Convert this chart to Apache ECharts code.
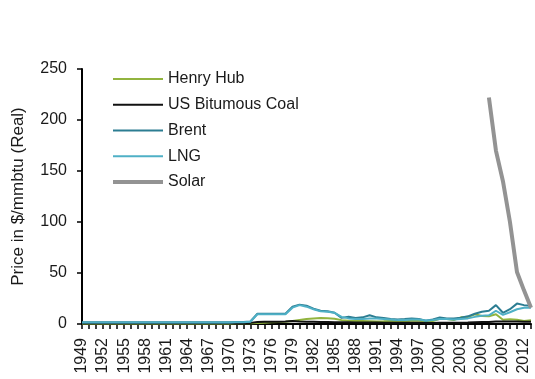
<!DOCTYPE html>
<html>
<head>
<meta charset="utf-8">
<script src="https://cdn.jsdelivr.net/npm/echarts@6/dist/echarts.min.js"></script>
<style>
  html, body { margin: 0; padding: 0; background: #fff; }
  #chart { width: 535px; height: 379px; }
</style>
</head>
<body>
<div id="chart"></div>
<script>
// Years 1949 .. 2013
var years = [];
for (var y = 1949; y <= 2013; y++) years.push(String(y));

var yTicks = [0, 50, 100, 150, 200, 250];

// Prices in $/mmbtu (real), one value per year
var henryHub = [
  0.4, 0.4, 0.4, 0.5, 0.5, 0.5, 0.5, 0.5, 0.5, 0.5, 0.6, 0.6,
  0.6, 0.6, 0.6, 0.6, 0.6, 0.6, 0.6, 0.6, 0.6, 0.6, 0.7, 0.7,
  0.8, 1.0, 1.3, 1.6, 2.0, 2.3, 3.0, 4.0, 4.8, 5.5, 5.8, 5.6,
  5.2, 3.8, 3.2, 3.0, 3.0, 2.8, 2.5, 2.6, 3.0, 2.6, 2.2, 3.5,
  3.3, 2.8, 3.0, 5.0, 4.8, 3.9, 6.5, 6.8, 9.5, 7.8, 7.6, 9.5,
  4.2, 4.6, 4.1, 2.9, 3.8
];

var usCoal = [
  1.0, 1.0, 1.0, 1.0, 1.0, 1.0, 1.0, 1.0, 1.0, 1.0, 1.0, 1.0,
  1.0, 1.0, 1.0, 1.0, 1.0, 1.0, 1.0, 1.0, 1.0, 1.0, 1.0, 1.0,
  1.1, 2.0, 2.3, 2.2, 2.2, 2.4, 3.0, 2.4, 2.3, 2.2, 2.0, 1.9,
  1.8, 1.7, 1.6, 1.5, 1.5, 1.4, 1.4, 1.3, 1.3, 1.2, 1.2, 1.2,
  1.2, 1.1, 1.1, 1.2, 1.3, 1.3, 1.3, 1.5, 1.8, 2.0, 2.0, 2.4,
  2.5, 2.4, 2.5, 2.3, 2.2
];

var brent = [
  1.8, 1.8, 1.8, 1.8, 1.8, 1.8, 1.8, 1.8, 1.8, 1.8, 1.8, 1.8,
  1.8, 1.8, 1.8, 1.8, 1.8, 1.8, 1.8, 1.8, 1.8, 1.8, 1.9, 2.0,
  2.5, 10.0, 10.0, 10.0, 10.0, 10.0, 17.0, 19.0, 18.0, 15.0, 13.0, 12.5,
  11.0, 6.0, 7.0, 6.0, 6.5, 8.5, 6.5, 6.0, 5.0, 4.5, 4.8, 5.5,
  5.0, 3.2, 4.5, 6.5, 5.5, 5.5, 6.2, 7.5, 10.0, 12.0, 13.0, 18.5,
  11.0, 14.5, 20.0, 18.5, 18.0
];

var lng = [
  1.5, 1.5, 1.5, 1.5, 1.5, 1.5, 1.5, 1.5, 1.5, 1.5, 1.5, 1.5,
  1.5, 1.5, 1.5, 1.5, 1.5, 1.5, 1.5, 1.5, 1.5, 1.5, 1.6, 1.7,
  2.2, 9.5, 9.5, 9.5, 9.5, 9.5, 16.0, 18.5, 17.0, 14.5, 12.5, 12.0,
  11.0, 7.0, 5.5, 5.0, 5.0, 5.5, 5.5, 5.0, 4.5, 3.8, 4.0, 4.5,
  4.5, 3.5, 4.0, 5.0, 5.0, 4.5, 5.0, 5.5, 7.0, 8.0, 8.5, 13.0,
  9.0, 11.5, 14.5, 16.0, 16.0
];

var solar = [
  null, null, null, null, null, null, null, null, null, null, null, null,
  null, null, null, null, null, null, null, null, null, null, null, null,
  null, null, null, null, null, null, null, null, null, null, null, null,
  null, null, null, null, null, null, null, null, null, null, null, null,
  null, null, null, null, null, null, null, null, null, null, 222, 170,
  140, 100, 51, 33, 16
];

var fontFam = '"Liberation Sans", Arial, sans-serif';
var textColor = '#1a1a1a';

// Flat bar icons so the legend shows plain line samples
var thinIcon = 'path://M0,0 L50,0 L50,2 L0,2 Z';
var thickIcon = 'path://M0,0 L50,0 L50,4 L0,4 Z';

function lineSeries(name, data, color, width) {
  return {
    name: name,
    type: 'line',
    data: data,
    symbol: 'none',
    showSymbol: false,
    connectNulls: false,
    lineStyle: { color: color, width: width },
    itemStyle: { color: color },
    emphasis: { disabled: true },
    animation: false
  };
}

var chart = echarts.init(document.getElementById('chart'), null, { renderer: 'canvas' });
chart.setOption({
  backgroundColor: '#ffffff',
  animation: false,
  grid: {
    left: 82, right: 4, top: 69, bottom: 55,
    containLabel: false,
    outerBoundsMode: 'none'
  },
  legend: {
    orient: 'vertical',
    left: 113,
    top: 71,
    padding: 0,
    itemWidth: 50,
    itemHeight: 16,
    itemGap: 9.75,
    symbolKeepAspect: true,
    textStyle: { fontFamily: fontFam, fontSize: 16, color: textColor, padding: [0, 0, 0, 0] },
    data: [
      { name: 'Henry Hub', icon: thinIcon },
      { name: 'US Bitumous Coal', icon: thinIcon },
      { name: 'Brent', icon: thinIcon },
      { name: 'LNG', icon: thinIcon },
      { name: 'Solar', icon: thickIcon }
    ]
  },
  xAxis: {
    type: 'category',
    data: years,
    boundaryGap: false,
    axisLine: { lineStyle: { color: '#000', width: 2 } },
    axisTick: { show: true, interval: 0, length: 5, lineStyle: { color: '#000', width: 1.5 } },
    axisLabel: {
      interval: 2,
      rotate: 90,
      fontFamily: fontFam,
      fontSize: 16,
      color: textColor,
      margin: 14
    },
    splitLine: { show: false }
  },
  yAxis: {
    type: 'value',
    min: 0,
    max: 250,
    interval: 50,
    name: 'Price in $/mmbtu (Real)',
    nameLocation: 'middle',
    nameGap: 55,
    nameTextStyle: { fontFamily: fontFam, fontSize: 17, color: textColor },
    axisLine: { show: true, lineStyle: { color: '#000', width: 2 } },
    axisTick: { show: true, length: 5, lineStyle: { color: '#000', width: 1.5 } },
    axisLabel: {
      fontFamily: fontFam,
      fontSize: 16,
      color: textColor,
      margin: 15,
      formatter: function (v) { return yTicks.indexOf(v) >= 0 ? String(v) : ''; }
    },
    splitLine: { show: false }
  },
  series: [
    lineSeries('Henry Hub', henryHub, '#92b43f', 2),
    lineSeries('US Bitumous Coal', usCoal, '#111111', 2),
    lineSeries('Brent', brent, '#2c7d92', 2),
    lineSeries('LNG', lng, '#4fb0c6', 2),
    lineSeries('Solar', solar, '#939393', 4)
  ]
});
</script>
</body>
</html>
